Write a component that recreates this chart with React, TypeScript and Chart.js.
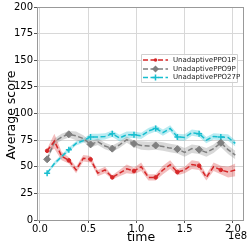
import React, { useEffect, useRef } from "react";
import { Chart, registerables } from "chart.js";
Chart.register(...registerables);

// time in millions of steps
const timeM = [7.5, 15, 22.5, 30, 37.5, 45, 52.5, 60, 67.5, 75, 82.5, 90, 97.5, 105, 112.5, 120, 127.5, 135, 142.5, 150, 157.5, 165, 172.5, 180, 187.5, 195, 202.5];
const red = [65, 74, 60, 56, 47, 58, 57, 44, 47, 40, 44, 48, 46, 50, 40, 40, 47, 52, 45, 47, 52, 51, 40, 50, 47, 45, 47];
const redErr = [2, 7, 4, 3, 3, 3, 3, 3, 3, 2, 3, 4, 3, 4, 3, 3, 4, 4, 3, 3, 4, 4, 3, 4, 4, 5, 6];
const gray = [57, 73.5, 78, 80.5, 79, 76.5, 71, 73.5, 69.5, 67, 70.5, 75.5, 71.5, 70, 69.5, 70, 69, 67.5, 66.5, 63.5, 67, 66, 63.5, 67, 72.5, 66, 61];
const grayErr = [2, 3, 3, 3, 4, 3, 3, 3, 3, 3, 3, 3, 3, 4, 4, 4, 4, 4, 4, 4, 4, 4, 4, 4, 4, 4, 4];
const cyan = [44, 53, 59.5, 66, 72, 74.5, 78, 78, 78.5, 81, 77, 80, 80, 79, 83.5, 86, 82, 86, 78, 77.5, 82, 81, 75, 78.5, 78, 77.5, 72];
const cyanErr = [1, 2, 2, 2, 2, 2, 3, 3, 3, 3, 3, 3, 3, 3, 3, 3, 3, 3, 3, 3, 3, 3, 3, 3, 3, 3, 3];
const seriesNames = ["UnadaptivePPO1P", "UnadaptivePPO9P", "UnadaptivePPO27P"];
const xTicks = [0, 0.5, 1.0, 1.5, 2.0];
const yTicks = [0, 25, 50, 75, 100, 125, 150, 175, 200];

const FONT = "DejaVu Sans";
const RED = "#d62728";
const GRAY = "#7f7f7f";
const CYAN = "#17becf";

function marker(ctx: CanvasRenderingContext2D, style: string, r: number, x: number, y: number, color: string) {
  ctx.fillStyle = color;
  ctx.strokeStyle = color;
  ctx.beginPath();
  if (style === "circle") {
    ctx.arc(x, y, r, 0, Math.PI * 2);
    ctx.fill();
  } else if (style === "rectRot") {
    ctx.moveTo(x, y - r);
    ctx.lineTo(x + r, y);
    ctx.lineTo(x, y + r);
    ctx.lineTo(x - r, y);
    ctx.closePath();
    ctx.fill();
  } else {
    ctx.lineWidth = 1.5;
    ctx.moveTo(x - r, y);
    ctx.lineTo(x + r, y);
    ctx.moveTo(x, y - r);
    ctx.lineTo(x, y + r);
    ctx.stroke();
  }
}

export default function App() {
  const ref = useRef<HTMLCanvasElement>(null);
  useEffect(() => {
    const canvas = ref.current!;
    const pts = (vals: number[]) => vals.map((v, i) => ({ x: timeM[i] * 1e6, y: v }));
    const band = (vals: number[], err: number[], sign: number) => vals.map((v, i) => ({ x: timeM[i] * 1e6, y: v + sign * err[i] }));
    const every3 = (r: number) => (c: any) => (c.dataIndex % 3 === 0 ? r : 0);
    const lineDs = (label: string, vals: number[], color: string, style: any, r: number) => ({
      label,
      data: pts(vals),
      borderColor: color,
      backgroundColor: color,
      borderWidth: 1.5,
      borderDash: [5, 2.5],
      pointStyle: style,
      pointRadius: every3(r),
      pointBorderWidth: style === "cross" ? 1.5 : 1,
      pointBorderColor: color,
      pointBackgroundColor: color,
      tension: 0,
      fill: false,
      order: 0,
    });
    const bandDs = (vals: number[], err: number[], rgba: string) => [
      { label: "lo", data: band(vals, err, -1), borderWidth: 0, pointRadius: 0, fill: false, order: 1, borderColor: "transparent" },
      { label: "hi", data: band(vals, err, 1), borderWidth: 0, pointRadius: 0, fill: "-1", backgroundColor: rgba, order: 1, borderColor: "transparent" },
    ];
    const legendItems = [
      { color: RED, style: "circle", r: 1.8 },
      { color: GRAY, style: "rectRot", r: 3.5 },
      { color: CYAN, style: "cross", r: 3 },
    ];
    const overlay = {
      id: "overlay",
      afterDraw(chart: any) {
        const ctx = chart.ctx;
        const a = chart.chartArea;
        ctx.save();
        ctx.strokeStyle = "#999";
        ctx.lineWidth = 1;
        ctx.strokeRect(Math.round(a.left) + 0.5, Math.round(a.top) + 0.5, Math.round(a.right - a.left) - 1, Math.round(a.bottom - a.top));
        ctx.fillStyle = "#000";
        ctx.font = `12.5px ${FONT}`;
        ctx.textAlign = "center";
        ctx.textBaseline = "middle";
        ctx.fillText("time", 141, 238);
        ctx.save();
        ctx.translate(12, 115);
        ctx.rotate(-Math.PI / 2);
        ctx.fillText("Average score", 0, 0);
        ctx.restore();
        ctx.font = `10px ${FONT}`;
        ctx.textAlign = "right";
        ctx.fillText("1e8", 247, 236);
        const bx = 141, by = 54, bw = 96, bh = 28;
        ctx.fillStyle = "rgba(255,255,255,0.8)";
        ctx.strokeStyle = "#d0d0d0";
        ctx.lineWidth = 1;
        ctx.beginPath();
        ctx.rect(bx + 0.5, by + 0.5, bw, bh);
        ctx.fill();
        ctx.stroke();
        const ys = [60, 69, 77.5];
        legendItems.forEach((it, i) => {
          const y = ys[i];
          ctx.strokeStyle = it.color;
          ctx.lineWidth = 1.5;
          ctx.setLineDash([5, 2.5]);
          ctx.beginPath();
          ctx.moveTo(143, y);
          ctx.lineTo(168, y);
          ctx.stroke();
          ctx.setLineDash([]);
          marker(ctx, it.style, it.r, 155.5, y, it.color);
          ctx.fillStyle = "#222";
          ctx.font = `7px ${FONT}`;
          ctx.textAlign = "left";
          ctx.textBaseline = "middle";
          ctx.fillText(seriesNames[i], 173, y);
        });
        ctx.restore();
      },
    };
    const chart = new Chart(canvas, {
      type: "line",
      data: {
        datasets: [
          lineDs(seriesNames[0], red, RED, "circle", 1.8),
          lineDs(seriesNames[1], gray, GRAY, "rectRot", 3.5),
          lineDs(seriesNames[2], cyan, CYAN, "cross", 3),
          ...bandDs(red, redErr, "rgba(214,39,40,0.3)"),
          ...bandDs(gray, grayErr, "rgba(127,127,127,0.3)"),
          ...bandDs(cyan, cyanErr, "rgba(23,190,207,0.3)"),
        ] as any,
      },
      options: {
        animation: false,
        responsive: false,
        layout: { padding: { top: 7, right: 4, left: 0, bottom: 0 } },
        plugins: { legend: { display: false }, tooltip: { enabled: false } },
        scales: {
          x: {
            type: "linear",
            min: -3e6,
            max: 2.11e8,
            afterBuildTicks: (s: any) => {
              s.ticks = xTicks.map((v) => ({ value: v * 1e8 }));
            },
            afterFit: (s: any) => {
              s.height = 29;
            },
            ticks: {
              callback: (v: any) => (Number(v) / 1e8).toFixed(1),
              font: { family: FONT, size: 10 },
              color: "#000",
              padding: 0,
              maxRotation: 0,
              autoSkip: false,
            },
            grid: { color: "#d8d8d8", tickLength: 3, tickColor: "#555" },
            border: { display: true, color: "#555" },
          },
          y: {
            type: "linear",
            min: 0,
            max: 200,
            afterBuildTicks: (s: any) => {
              s.ticks = yTicks.map((v) => ({ value: v }));
            },
            afterFit: (s: any) => {
              s.width = 37;
            },
            ticks: {
              font: { family: FONT, size: 10 },
              color: "#000",
              padding: 1,
              autoSkip: false,
            },
            grid: { color: "#d8d8d8", tickLength: 3, tickColor: "#555" },
            border: { display: true, color: "#555" },
          },
        },
      },
      plugins: [overlay],
    });
    return () => chart.destroy();
  }, []);
  return (
    <div style={{ position: "fixed", left: 0, top: 0, width: 249, height: 249, background: "#fff" }}>
      <canvas ref={ref} width={249} height={249} style={{ width: 249, height: 249 }} />
    </div>
  );
}
